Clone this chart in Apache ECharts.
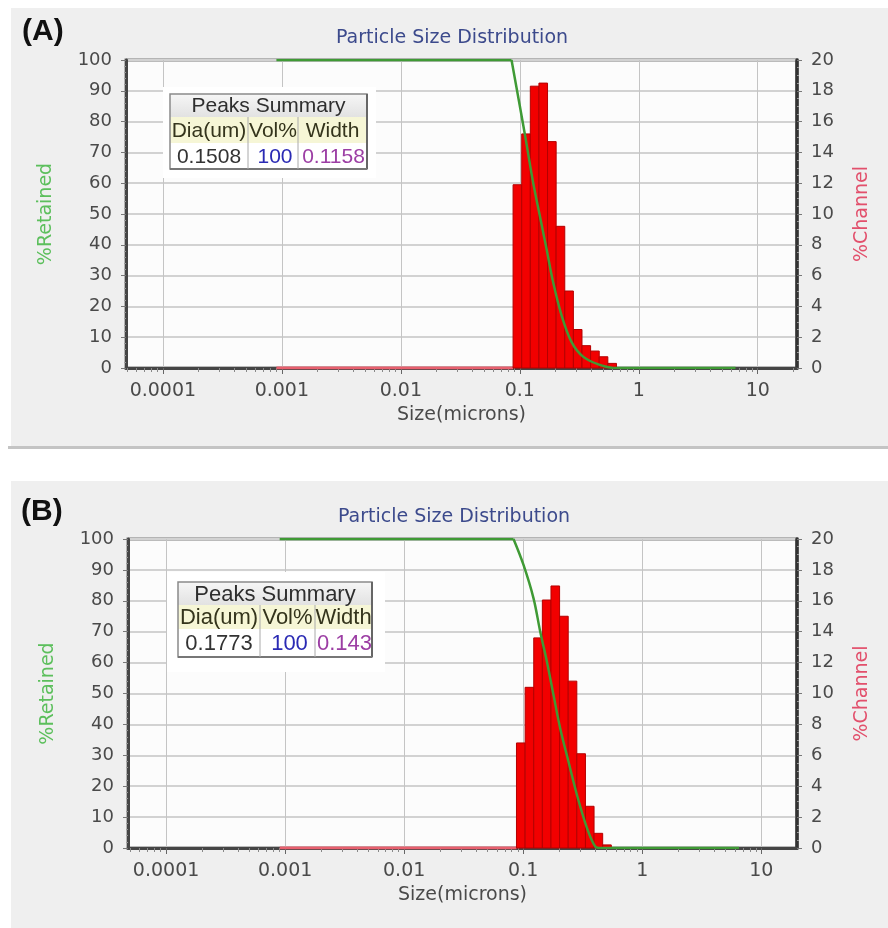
<!DOCTYPE html>
<html>
<head>
<meta charset="utf-8">
<script src="https://cdn.jsdelivr.net/npm/echarts@6/dist/echarts.min.js"></script>
<style>html,body{margin:0;padding:0;background:#fff}#c{width:888px;height:928px}</style>
</head>
<body>
<div id="c"></div>
<script>
// ---------- data ----------
const X_DECADES = [0.0001, 0.001, 0.01, 0.1, 1, 10];
const X_TICK_LABELS = ['0.0001', '0.001', '0.01', '0.1', '1', '10'];
const X_MINOR_MULTS = [2, 3, 4, 5, 6, 7, 8, 9];

// channel (bin) edges in microns
const CHANNEL_EDGES = [0.0878, 0.1038, 0.1226, 0.1448, 0.1711, 0.2021, 0.2388, 0.2821, 0.3333, 0.3937, 0.4652, 0.5496, 0.6494];

// panel A
const A_CHANNEL = [11.9, 15.2, 18.3, 18.5, 14.7, 9.2, 5.0, 2.5, 1.45, 1.1, 0.73, 0.3];
const A_RETAINED_SIZE = [0.0009, 0.0852, 0.1102, 0.1293, 0.1472, 0.1677, 0.1905, 0.2241, 0.2719, 0.3402, 0.4702, 0.6081, 6.5];
const A_RETAINED = [100, 100, 76, 60.3, 49.5, 38.7, 27.9, 17.2, 8.5, 3.7, 1, 0, 0];
const A_PEAK = {dia: '0.1508', vol: '100', width: '0.1158'};

// panel B
const B_CHANNEL = [6.8, 10.4, 13.6, 16.05, 16.96, 15.0, 10.8, 6.1, 2.7, 0.95, 0.2];
const B_RETAINED_SIZE = [0.0009, 0.0829, 0.1006, 0.1221, 0.1390, 0.1582, 0.1797, 0.2046, 0.2402, 0.2827, 0.3430, 0.4027, 0.45, 6.5];
const B_RETAINED = [100, 100, 91.6, 80.8, 70.0, 60.3, 49.5, 38.7, 27.9, 17.2, 6.5, 0.5, 0, 0];
const B_PEAK = {dia: '0.1773', vol: '100', width: '0.143'};

// %Channel zero line extent (microns)
const CHANNEL_ZERO_SIZE = [0.0009, 0.0878];

// ---------- helpers ----------
const L = Math.log10;
const decadeVals = X_DECADES.map(L);
const minorVals = [];
for (let d = -5; d <= 1; d++) X_MINOR_MULTS.forEach(m => minorVals.push(L(m) + d));

function fmtX(v) {
  const i = decadeVals.findIndex(d => Math.abs(d - v) < 1e-6);
  return i >= 0 ? X_TICK_LABELS[i] : '';
}
const FONT = 'DejaVu Sans';
const LABEL_COLOR = '#4a4a4a';

function xAxes(gridIndex, min, max) {
  return [{
    type: 'value', gridIndex, min, max, position: 'bottom',
    name: 'Size(microns)', nameLocation: 'middle', nameGap: 38,
    nameTextStyle: {color: LABEL_COLOR, fontSize: 19, fontFamily: FONT},
    axisLine: {show: true, onZero: false, lineStyle: {color: '#454545', width: 3}},
    axisTick: {show: true, customValues: decadeVals, length: 6, inside: false, lineStyle: {color: '#666', width: 1}},
    axisLabel: {customValues: decadeVals, formatter: fmtX, color: LABEL_COLOR, fontSize: 19, fontFamily: FONT, margin: 14},
    splitLine: {show: true, lineStyle: {color: '#c4c4c4', width: 1}}
  }, {
    type: 'value', gridIndex, min, max, position: 'bottom',
    axisLine: {show: false, onZero: false},
    axisTick: {show: true, customValues: minorVals.filter(v => v > min && v < max), length: 4, lineStyle: {color: '#888', width: 1}},
    axisLabel: {show: false},
    splitLine: {show: false}
  }];
}
function yAxes(gridIndex) {
  return [{
    type: 'value', gridIndex, min: 0, max: 100, interval: 10, position: 'left',
    name: '%Retained', nameLocation: 'middle', nameRotate: 90, nameGap: 70,
    nameTextStyle: {color: '#5cbf5c', fontSize: 19, fontFamily: FONT},
    axisLine: {show: true, onZero: false, lineStyle: {color: '#454545', width: 3}},
    axisTick: {show: true, length: 5, lineStyle: {color: '#777'}},
    minorTick: {show: true, splitNumber: 5, length: 2, lineStyle: {color: '#999'}},
    axisLabel: {color: LABEL_COLOR, fontSize: 18, fontFamily: FONT, margin: 14},
    splitLine: {show: true, lineStyle: {color: '#d2d2d2', width: 2}}
  }, {
    type: 'value', gridIndex, min: 0, max: 20, interval: 2, position: 'right',
    name: '%Channel', nameLocation: 'middle', nameRotate: 90, nameGap: 56,
    nameTextStyle: {color: '#e2506c', fontSize: 19, fontFamily: FONT},
    axisLine: {show: true, onZero: false, lineStyle: {color: '#333', width: 3.5}},
    axisTick: {show: true, length: 5, lineStyle: {color: '#777'}},
    minorTick: {show: true, splitNumber: 4, length: 2, lineStyle: {color: '#999'}},
    axisLabel: {color: LABEL_COLOR, fontSize: 18, fontFamily: FONT, margin: 14},
    splitLine: {show: false}
  }];
}
function renderBar(params, api) {
  const p0 = api.coord([api.value(0), api.value(2)]);
  const p1 = api.coord([api.value(1), 0]);
  return {type: 'rect', shape: {x: p0[0], y: p0[1], width: p1[0] - p0[0], height: p1[1] - p0[1]},
    style: {fill: '#f20000', stroke: '#b40000', lineWidth: 1}};
}
function panelSeries(xi, yi, channel, retSize, ret) {
  const bars = channel.map((v, i) => [L(CHANNEL_EDGES[i]), L(CHANNEL_EDGES[i + 1]), v]);
  const pts = retSize.map((s, i) => [L(s), ret[i]]);
  const n = pts.length;
  const green = (data, smooth) => ({
    type: 'line', xAxisIndex: xi, yAxisIndex: yi, symbol: 'none', z: 5, smooth, data,
    lineStyle: {color: '#3f9a35', width: 2.5}
  });
  return [{
    type: 'line', xAxisIndex: xi, yAxisIndex: yi + 1, symbol: 'none', z: 3,
    data: CHANNEL_ZERO_SIZE.map(s => [L(s), 0]),
    lineStyle: {color: '#e8606e', width: 3}
  }, {
    type: 'custom', xAxisIndex: xi, yAxisIndex: yi + 1, renderItem: renderBar, z: 4,
    encode: {x: [0, 1], y: 2}, data: bars
  },
    green(pts.slice(0, 2), false),
    green(pts.slice(1, n - 1), 0.35),
    green(pts.slice(n - 2), false)
  ];
}
function table(x, y, w, rowH, cols, fs, peak, box) {
  const els = [];
  els.push({type: 'rect', shape: box, style: {fill: '#ffffff'}, z: 100});
  const h = rowH[0] + rowH[1] + rowH[2];
  els.push({type: 'rect', shape: {x, y, width: w, height: rowH[0]},
    style: {fill: new echarts.graphic.LinearGradient(0, 0, 0, 1, [{offset: 0, color: '#f6f6f6'}, {offset: 1, color: '#e2e2e2'}])}, z: 101});
  els.push({type: 'rect', shape: {x, y: y + rowH[0], width: w, height: rowH[1]}, style: {fill: '#f6f6d6'}, z: 101});
  els.push({type: 'rect', shape: {x, y: y + rowH[0] + rowH[1], width: w, height: rowH[2]}, style: {fill: '#ffffff'}, z: 101});
  els.push({type: 'rect', shape: {x, y, width: w, height: h}, style: {fill: null, stroke: '#8a8a8a', lineWidth: 1.5}, z: 103});
  els.push({type: 'line', shape: {x1: x + w, y1: y, x2: x + w, y2: y + h}, style: {stroke: '#666', lineWidth: 2}, z: 103});
  els.push({type: 'line', shape: {x1: x, y1: y + h, x2: x + w, y2: y + h}, style: {stroke: '#777', lineWidth: 2}, z: 103});
  [cols[0], cols[1]].forEach(cx => els.push({type: 'line', shape: {x1: cx, y1: y + rowH[0], x2: cx, y2: y + h}, style: {stroke: '#aaa', lineWidth: 1}, z: 103}));
  const txt = (t, cx, cy, color) => ({type: 'text', x: cx, y: cy, z: 104,
    style: {text: t, fill: color, font: fs + 'px "Liberation Sans", Arial, sans-serif', textAlign: 'center', textVerticalAlign: 'middle'}});
  const c1 = (x + cols[0]) / 2, c2 = (cols[0] + cols[1]) / 2, c3 = (cols[1] + x + w) / 2;
  els.push(txt('Peaks Summary', x + w / 2, y + rowH[0] / 2 + 1, '#2e2e2e'));
  const hy = y + rowH[0] + rowH[1] / 2 + 1;
  els.push(txt('Dia(um)', c1, hy, '#34341c'));
  els.push(txt('Vol%', c2, hy, '#34341c'));
  els.push(txt('Width', c3, hy, '#34341c'));
  const vy = y + rowH[0] + rowH[1] + rowH[2] / 2 + 1;
  els.push(txt(peak.dia, c1, vy, '#333333'));
  els.push(txt(peak.vol, c2 + 2, vy, '#2a2ab4'));
  els.push(txt(peak.width, c3 + 1, vy, '#9c3ea4'));
  return els;
}

const chart = echarts.init(document.getElementById('c'), null, {renderer: 'canvas'});
const option = {
  backgroundColor: '#ffffff',
  animation: false,
  title: [
    {text: 'Particle Size Distribution', left: 447, textAlign: 'center', top: 24,
      textStyle: {color: '#3c4a8c', fontSize: 19, fontWeight: 'normal', fontFamily: FONT}},
    {text: 'Particle Size Distribution', left: 449, textAlign: 'center', top: 503,
      textStyle: {color: '#3c4a8c', fontSize: 19, fontWeight: 'normal', fontFamily: FONT}}
  ],
  grid: [
    {left: 126, top: 60, width: 671, height: 308, show: true, backgroundColor: '#fcfcfc', borderColor: '#7a7a7a', borderWidth: 3},
    {left: 128, top: 539, width: 669, height: 309, show: true, backgroundColor: '#fcfcfc', borderColor: '#7a7a7a', borderWidth: 3}
  ],
  xAxis: [...xAxes(0, -4.31, 1.33), ...xAxes(1, -4.32, 1.30)],
  yAxis: [...yAxes(0), ...yAxes(1)],
  series: [
    ...panelSeries(0, 0, A_CHANNEL, A_RETAINED_SIZE, A_RETAINED),
    ...panelSeries(2, 2, B_CHANNEL, B_RETAINED_SIZE, B_RETAINED)
  ],
  graphic: [
    {type: 'rect', z: -100, shape: {x: 11, y: 8, width: 877, height: 439}, style: {fill: '#efefef'}},
    {type: 'rect', z: -99, shape: {x: 8, y: 446, width: 880, height: 3}, style: {fill: '#c4c4c4'}},
    {type: 'rect', z: -100, shape: {x: 11, y: 481, width: 877, height: 447}, style: {fill: '#efefef'}},
    {type: 'text', x: 22, y: 17, z: 50, style: {text: '(A)', fill: '#111', font: 'bold 30px "Liberation Sans", Arial, sans-serif'}},
    {type: 'text', x: 21, y: 497, z: 50, style: {text: '(B)', fill: '#111', font: 'bold 30px "Liberation Sans", Arial, sans-serif'}},
    ...table(170, 94, 197, [23, 26, 26], [248, 298], 21, A_PEAK, {x: 163, y: 87, width: 213, height: 91}),
    ...table(178, 582, 194, [23, 24, 28], [260, 315], 22, B_PEAK, {x: 167, y: 572, width: 218, height: 100})
  ]
};
chart.setOption(option);
</script>
</body>
</html>
